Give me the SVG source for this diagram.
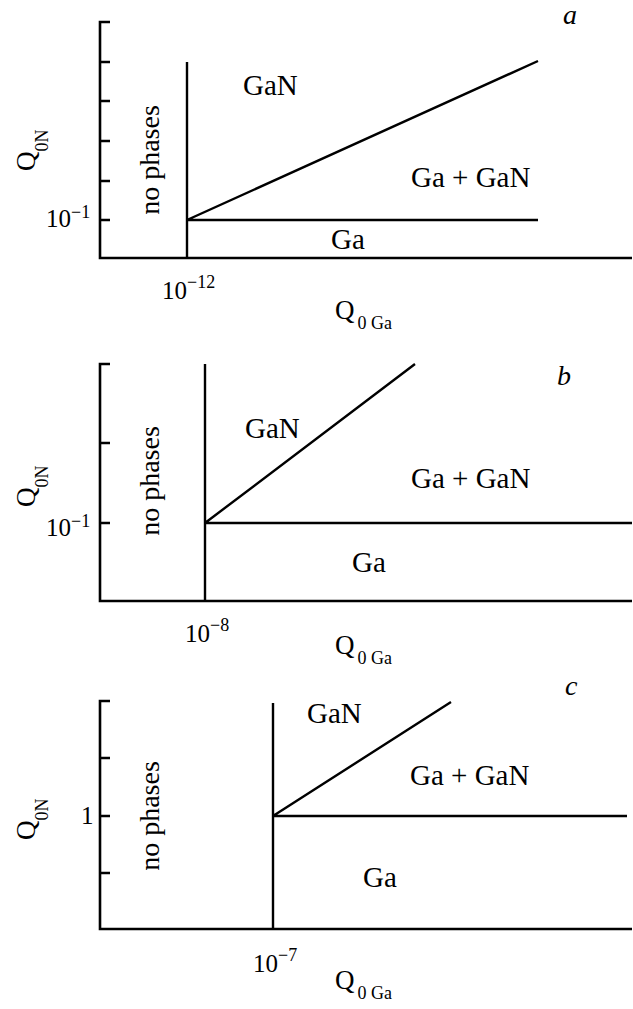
<svg xmlns="http://www.w3.org/2000/svg" width="633" height="1009" viewBox="0 0 633 1009" font-family="Liberation Serif, DejaVu Serif, serif">
<style>
text{font-family:'Liberation Serif','DejaVu Serif',serif;fill:#000}
.lbl{font-size:29px}
.np{font-size:28px}
.tk{font-size:25px}
.sup{font-size:18px}
.sub{font-size:18px}
.q{font-size:27px}
.it{font-size:28px;font-style:italic}
.ax{stroke:#000;stroke-width:2.6;fill:none}
.ln{stroke:#000;stroke-width:2.4;fill:none}
</style>
<rect width="633" height="1009" fill="#fff"/>
<!-- Panel a -->
<g id="panel-a">
<path class="ax" d="M110,22 H100 V258 H632 M100,62 H110 M100,101 H110 M100,141 H110 M100,181 H110 M100,220 H110"/>
<g id="a-lines">
<path class="ln" d="M187,62 V258 M187,220 H538 M187,220 L538,61"/>
</g>
<text class="tk" x="46" y="227">10<tspan class="sup" dy="-9">−1</tspan></text>
<text class="tk" x="162" y="299">10<tspan class="sup" dy="-11">−12</tspan></text>
<text class="lbl" x="243" y="95">GaN</text>
<text class="lbl" x="411" y="187">Ga + GaN</text>
<text class="lbl" x="331" y="249">Ga</text>
<text class="np" transform="translate(159,160) rotate(-90)" text-anchor="middle">no phases</text>
<text transform="translate(35,171) rotate(-90)"><tspan class="q">Q</tspan><tspan class="sub" dy="13">0N</tspan></text>
<text x="335" y="319"><tspan class="q">Q</tspan><tspan class="sub" dy="10" dx="3">0 Ga</tspan></text>
<text class="it" x="563" y="24">a</text>
</g>
<!-- Panel b -->
<g id="panel-b">
<path class="ax" d="M110,364 H100 V601 H632 M100,443 H110 M100,523 H110"/>
<g id="b-lines">
<path class="ln" d="M205,364 V601 M205,523 H632 M205,523 L415,364"/>
</g>
<text class="tk" x="46" y="536">10<tspan class="sup" dy="-9">−1</tspan></text>
<text class="tk" x="185" y="642">10<tspan class="sup" dy="-11">−8</tspan></text>
<text class="lbl" x="245" y="438">GaN</text>
<text class="lbl" x="411" y="488">Ga + GaN</text>
<text class="lbl" x="352" y="572">Ga</text>
<text class="np" transform="translate(159,481) rotate(-90)" text-anchor="middle">no phases</text>
<text transform="translate(35,507) rotate(-90)"><tspan class="q">Q</tspan><tspan class="sub" dy="13">0N</tspan></text>
<text x="335" y="654"><tspan class="q">Q</tspan><tspan class="sub" dy="10" dx="3">0 Ga</tspan></text>
<text class="it" x="557" y="385">b</text>
</g>
<!-- Panel c -->
<g id="panel-c">
<path class="ax" d="M110,701 H100 V929 H632 M100,758 H110 M100,816 H110 M100,873 H110"/>
<g id="c-lines">
<path class="ln" d="M273,703 V929 M273,816 H627 M273,816 L451,702"/>
</g>
<text class="tk" x="81" y="824">1</text>
<text class="tk" x="253" y="972">10<tspan class="sup" dy="-11">−7</tspan></text>
<text class="lbl" x="307" y="723">GaN</text>
<text class="lbl" x="410" y="785">Ga + GaN</text>
<text class="lbl" x="363" y="887">Ga</text>
<text class="np" transform="translate(159,816) rotate(-90)" text-anchor="middle">no phases</text>
<text transform="translate(35,840) rotate(-90)"><tspan class="q">Q</tspan><tspan class="sub" dy="13">0N</tspan></text>
<text x="335" y="989"><tspan class="q">Q</tspan><tspan class="sub" dy="10" dx="3">0 Ga</tspan></text>
<text class="it" x="565" y="695">c</text>
</g>
</svg>
